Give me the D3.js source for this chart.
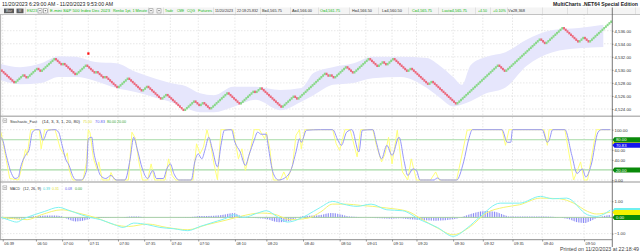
<!DOCTYPE html>
<html>
<head>
<meta charset="UTF-8" />
<title>ESZ23 Renko - MultiCharts</title>
<script src="https://cdn.jsdelivr.net/npm/d3@7"></script>
<style>
  body { margin: 0; background: #fff; }
  svg { display: block; font-family: 'Liberation Sans', Arial, sans-serif; }
</style>
</head>
<body>
<div id="chart"></div>
<script>
  // ---- data ----
  const brickSize = 0.25
  // renko turning points (price of the last brick of each run)
  const renkoPivots = [
    4530.00, 4528.00, 4529.25, 4528.75, 4530.25, 4529.75, 4531.75, 4530.75, 4531.00, 4529.25,
    4530.75, 4529.50, 4529.75, 4528.75, 4529.00, 4527.25, 4528.75, 4526.75, 4527.50, 4525.50,
    4526.25, 4523.75, 4525.25, 4524.50, 4525.00, 4524.00, 4526.50, 4524.75, 4526.75, 4526.50,
    4527.25, 4524.25, 4526.00, 4525.50, 4529.50, 4529.00, 4529.25, 4528.75, 4530.50, 4529.50,
    4531.75, 4530.50, 4531.25, 4530.75, 4531.75, 4529.75, 4530.25, 4527.75, 4528.25, 4524.75,
    4530.75, 4529.75, 4534.75, 4534.00, 4536.50, 4534.25, 4535.00, 4534.25, 4537.50
  ]
  const signalBar = 50
  const signalPrice = 4532.5

  // lavender band (bar index, upper, lower)
  const bandBars = [0, 11, 23, 33, 43, 54, 66, 77, 89, 97, 106, 114, 122, 133, 146, 160, 172, 179, 190, 202, 213, 229, 244, 251, 259, 264, 269, 278, 289, 301, 316, 331, 345]
  const bandUpper = [4530.9, 4530.4, 4531.0, 4532.1, 4532.0, 4531.2, 4531.0, 4529.7, 4528.6, 4528.0, 4527.5, 4526.4, 4526.1, 4527.4, 4527.4, 4526.9, 4527.2, 4529.5, 4530.4, 4531.0, 4532.0, 4532.0, 4531.8, 4530.7, 4528.9, 4527.7, 4530.7, 4532.0, 4532.7, 4534.6, 4536.1, 4536.4, 4536.9]
  const bandLower = [4528.4, 4527.8, 4528.0, 4528.9, 4528.9, 4528.3, 4527.2, 4526.6, 4525.7, 4525.1, 4524.1, 4523.5, 4523.5, 4524.3, 4525.4, 4523.8, 4525.1, 4526.1, 4527.7, 4528.0, 4528.7, 4528.9, 4527.2, 4525.8, 4524.4, 4524.7, 4525.2, 4526.4, 4527.3, 4530.6, 4532.7, 4533.3, 4533.5]

  const priceTicks = [4524, 4526, 4528, 4530, 4532, 4534, 4536]

  // Stochastic_Fast: slow line (blue) and fast line (yellow)
  const stochDBars = [0, 1, 3, 6, 8, 10, 11, 14, 16, 18, 20, 22, 24, 27, 31, 33, 35, 37, 39, 41, 43, 46, 49, 50, 52, 53, 55, 57, 60, 63, 66, 71, 74, 76, 78, 81, 84, 87, 89, 93, 95, 97, 99, 102, 109, 111, 113, 115, 117, 119, 121, 124, 126, 128, 132, 134, 137, 140, 142, 145, 147, 149, 152, 153, 156, 159, 162, 166, 169, 171, 172, 175, 183, 190, 193, 195, 198, 201, 205, 207, 213, 215, 218, 221, 224, 228, 231, 233, 236, 238, 240, 248, 250, 252, 261, 265, 268, 270, 287, 290, 292, 293, 310, 313, 314, 316, 323, 327, 330, 333, 335, 338, 342, 344, 349]
  const stochD = [85, 79, 49, 13, 3, 6, 22, 49, 59, 95, 100, 100, 79, 99, 100, 95, 69, 42, 29, 9, 0, 0, 19, 82, 85, 59, 29, 9, 3, 9, 0, 0, 42, 85, 62, 22, 3, 19, 3, 3, 22, 32, 13, 0, 0, 36, 52, 42, 62, 85, 62, 26, 69, 99, 100, 75, 56, 29, 49, 79, 95, 91, 91, 69, 13, 0, 3, 19, 56, 82, 75, 99, 100, 100, 79, 69, 95, 100, 56, 99, 100, 75, 42, 69, 49, 85, 36, 9, 22, 19, 0, 0, 4, 0, 0, 36, 82, 100, 100, 75, 75, 100, 100, 75, 79, 100, 100, 49, 13, 22, 6, 29, 95, 100, 100]
  const stochKBars = [0, 5, 10, 12, 14, 15, 17, 22, 23, 25, 31, 34, 37, 38, 39, 41, 47, 49, 50, 51, 53, 55, 56, 58, 62, 63, 65, 73, 75, 77, 79, 81, 84, 86, 88, 94, 96, 98, 100, 110, 112, 114, 116, 118, 120, 122, 124, 126, 133, 136, 138, 140, 143, 145, 148, 151, 152, 154, 156, 160, 162, 164, 167, 169, 171, 172, 174, 183, 190, 192, 194, 197, 200, 204, 206, 213, 215, 218, 220, 222, 224, 227, 230, 233, 235, 238, 246, 249, 251, 261, 267, 270, 287, 289, 291, 311, 313, 314, 323, 328, 332, 334, 336, 341, 349]
  const stochK = [95, 3, 0, 26, 61, 49, 100, 100, 62, 100, 100, 62, 46, 54, 21, 0, 0, 36, 100, 94, 42, 21, 36, 0, 0, 15, 0, 0, 95, 83, 36, 0, 0, 32, 0, 0, 42, 9, 0, 0, 72, 52, 66, 100, 72, 32, 0, 100, 100, 42, 62, 19, 62, 100, 100, 82, 95, 62, 0, 0, 16, 0, 29, 89, 100, 62, 100, 100, 100, 72, 59, 100, 100, 46, 100, 100, 69, 36, 52, 85, 32, 99, 16, 0, 42, 0, 0, 16, 0, 0, 99, 100, 100, 69, 100, 100, 69, 100, 100, 0, 36, 0, 0, 100, 100]
  const stochTicks = [0, 40, 60, 100]

  // MACD (12, 26, 9)
  const macdBars = [0, 4, 9, 13, 19, 25, 33, 38, 46, 51, 57, 65, 70, 76, 84, 91, 99, 107, 114, 122, 130, 133, 139, 147, 152, 158, 164, 172, 179, 183, 190, 196, 204, 212, 221, 230, 240, 250, 259, 267, 274, 286, 297, 309, 316, 324, 336, 341, 349]
  const macdLine = [0, -0.14, -0.29, -0.08, 0.16, 0.37, 0.62, 0.47, 0.16, 0, -0.14, -0.45, -0.62, -0.35, -0.45, -0.62, -0.7, -0.82, -0.56, -0.29, 0, 0.16, 0, 0.27, 0.41, 0.06, -0.29, -0.04, 0.37, 0.62, 0.99, 0.82, 0.68, 0.82, 0.47, 0.41, -0.14, -0.62, -1.17, -0.66, 0, 0.88, 0.88, 1.3, 1.15, 1.19, 0.16, 0.06, 0.45]
  const signalBars = [0, 7, 15, 23, 35, 44, 55, 65, 73, 84, 95, 107, 118, 130, 137, 149, 156, 166, 176, 183, 190, 198, 206, 213, 221, 233, 240, 250, 259, 269, 278, 288, 297, 309, 320, 328, 336, 341, 349]
  const signalLine = [0, -0.08, -0.14, 0.16, 0.47, 0.27, -0.04, -0.45, -0.56, -0.41, -0.62, -0.76, -0.45, -0.14, 0.06, 0.27, 0.21, -0.14, -0.04, 0.33, 0.82, 0.82, 0.74, 0.68, 0.58, 0.37, -0.04, -0.66, -1.07, -0.56, 0.27, 0.62, 0.78, 1.19, 1.15, 0.88, 0.37, 0.21, 0.33]
  const histBars = [0, 6, 11, 17, 23, 31, 35, 38, 43, 49, 53, 57, 69, 74, 79, 83, 97, 109, 114, 122, 129, 133, 137, 143, 152, 159, 166, 170, 174, 183, 189, 194, 200, 209, 217, 223, 229, 234, 243, 249, 260, 266, 272, 277, 283, 287, 292, 297, 312, 320, 325, 330, 334, 338, 342, 346, 349]
  const histValues = [-0.05, -0.1, -0.08, 0.05, 0.1, 0.12, 0.05, -0.1, -0.25, -0.15, 0, 0.03, 0, 0.05, 0.06, 0, 0, 0.03, 0.08, 0.1, 0.2, 0.27, 0.1, 0, -0.1, -0.3, -0.2, 0, 0.08, 0.15, 0.27, 0.2, 0.05, 0, -0.05, -0.08, -0.05, -0.12, -0.18, -0.2, -0.1, 0.1, 0.3, 0.4, 0.35, 0.2, 0.05, 0.05, 0.05, 0, -0.1, -0.3, -0.35, -0.2, 0, 0.1, 0.15]
  const macdTicks = [-1, 1]

  // time axis
  const timeBars = [1, 20, 35, 50, 67, 82, 97, 113, 134, 152, 173, 194, 209, 224, 238, 259, 276, 293, 310, 334]
  const timeLabels = ['06:39', '06:50', '07:00', '07:11', '07:30', '07:35', '07:40', '07:50', '08:10', '08:20', '08:40', '08:50', '09:01', '09:10', '09:20', '09:30', '09:32', '09:35', '09:40', '09:50']

  // ---- build renko bricks from the runs ----
  const bricks = []
  let level = renkoPivots[0]
  for (let k = 1; k < renkoPivots.length; k++) {
    const dir = Math.sign(renkoPivots[k] - level)
    while (Math.abs(renkoPivots[k] - level) > 1e-9) {
      bricks.push({ i: bricks.length, open: level, close: level + dir * brickSize, up: dir > 0 })
      level += dir * brickSize
    }
  }

  // ---- layout ----
  const W = 640, H = 252
  const plotL = 1, plotR = 612
  const panes = {
    price: { top: 14.5, bottom: 115.5 },
    stoch: { top: 117, bottom: 181.5 },
    macd: { top: 182.5, bottom: 239.5 },
  }

  const x = d3.scaleLinear().domain([0, bricks.length]).range([plotL, plotR])
  const yPrice = d3.scaleLinear().domain([4524, 4536]).range([109, 30.7])
  const yStoch = d3.scaleLinear().domain([0, 100]).range([180, 129.7])
  const yMacd = d3.scaleLinear().domain([-1, 1]).range([233.6, 201.2])
  const bw = x(1) - x(0)

  const svg = d3.select('#chart').append('svg').attr('width', W).attr('height', H)
  svg.append('rect').attr('width', W).attr('height', H).attr('fill', '#fff')

  const defs = svg.append('defs')
  Object.entries(panes).forEach(([id, p]) => {
    defs.append('clipPath').attr('id', 'clip-' + id)
      .append('rect').attr('x', plotL).attr('y', p.top).attr('width', plotR - plotL).attr('height', p.bottom - p.top)
  })
  const stripe = defs.append('pattern').attr('id', 'histStripe')
    .attr('patternUnits', 'userSpaceOnUse').attr('width', bw).attr('height', 4)
  stripe.append('rect').attr('width', 0.8).attr('height', 4).attr('fill', '#7f7ff5')

  function txt(sel, px, py, s, fill, len, size = 4.3, weight = 'normal', anchor = 'start') {
    const t = sel.append('text').attr('x', px).attr('y', py).attr('fill', fill)
      .attr('font-size', size).attr('font-weight', weight).attr('text-anchor', anchor).text(s)
    if (len) t.attr('textLength', len).attr('lengthAdjust', 'spacingAndGlyphs')
    return t
  }

  // ---- title row ----
  txt(svg, 2, 6, '11/20/2023 6:29:00 AM - 11/20/2023 9:53:00 AM', '#222', 111, 5.4)
  txt(svg, 638, 6, 'MultiCharts .NET64 Special Edition', '#222', 85, 5.2, 'bold', 'end')

  // ---- symbol toolbar ----
  const tb = svg.append('g')
  tb.append('rect').attr('x', 0).attr('y', 7.5).attr('width', W).attr('height', 7).attr('fill', '#f4f4f4')
  const cellLines = [25, 48, 148, 163, 213, 235, 260, 290, 318, 349, 378, 408, 438, 475, 490, 507, 542, 567, 587, 635]
  cellLines.forEach(cx => tb.append('line').attr('x1', cx + 0.5).attr('x2', cx + 0.5).attr('y1', 7.5).attr('y2', 14.5).attr('stroke', '#d4d4d4').attr('stroke-width', 0.6))
  tb.append('rect').attr('x', 4).attr('y', 8.6).attr('width', 10).attr('height', 4.6).attr('fill', '#5c5c5c')
  tb.append('rect').attr('x', 16.5).attr('y', 8.6).attr('width', 7).attr('height', 4.6).attr('fill', '#5c5c5c')
  txt(tb, 9, 12.2, 'Bar', '#ddd', 6, 3.4, 'normal', 'middle')
  txt(tb, 20, 12.2, 'M', '#ddd', null, 3.4, 'normal', 'middle')
  ;[38, 43.5, 149, 157].forEach(bx => {
    tb.append('rect').attr('x', bx).attr('y', 8.8).attr('width', 4).attr('height', 4.2).attr('fill', '#fff').attr('stroke', '#777').attr('stroke-width', 0.5)
    tb.append('path').attr('d', `M${bx + 1},${10.3} L${bx + 3},${10.3} L${bx + 2},${11.6} Z`).attr('fill', '#444')
  })
  const green = '#12b812', dark = '#333'
  const toolbarTexts = [
    [27, 'ESZ23', green, 10], [50, 'E-mini S&P 500 Index Dec 2023', green, 60], [113, 'Renko 1pt, 1 Minute', green, 34],
    [165, 'Trade', green, 8], [177, 'CME', green, 7], [187, 'CQG', green, 8], [198, 'Futures', green, 14],
    [215, '11/20/2023', dark, 18], [237, '22:18:25.832', dark, 21], [262, 'B=4,565.75', dark, 20], [292, 'A=4,566.00', dark, 20],
    [320, 'O=4,561.75', green, 20], [352, 'H=4,566.50', dark, 20], [382, 'L=4,560.50', dark, 20], [412, 'C=4,565.75', green, 20],
    [442, 'Last=4,565.75', green, 25], [478, '+4.50', green, 9], [493, '+0.10%', green, 13], [508, 'V=28,368', dark, 17],
  ]
  toolbarTexts.forEach(([tx, s, c, len]) => txt(tb, tx, 12.4, s, c, len, 4.3))

  // ---- grids ----
  const grid = svg.append('g').attr('stroke', '#d6d6d6').attr('stroke-width', 0.6).attr('stroke-dasharray', '1.5,1.5')
  Object.values(panes).forEach(p => {
    timeBars.forEach(b => grid.append('line').attr('x1', x(b)).attr('x2', x(b)).attr('y1', p.top).attr('y2', p.bottom))
  })
  priceTicks.forEach(v => grid.append('line').attr('x1', plotL).attr('x2', plotR).attr('y1', yPrice(v)).attr('y2', yPrice(v)))
  ;[0, 40, 60, 100].forEach(v => grid.append('line').attr('x1', plotL).attr('x2', plotR).attr('y1', yStoch(v)).attr('y2', yStoch(v)))
  ;[-1, 1].forEach(v => grid.append('line').attr('x1', plotL).attr('x2', plotR).attr('y1', yMacd(v)).attr('y2', yMacd(v)))

  // ---- price pane ----
  const gp = svg.append('g').attr('clip-path', 'url(#clip-price)')
  const band = bandBars.map((b, i) => ({ b, hi: bandUpper[i], lo: bandLower[i] }))
  gp.append('path').datum(band)
    .attr('fill', '#e6e6fc')
    .attr('d', d3.area().curve(d3.curveMonotoneX).x(d => x(d.b)).y0(d => yPrice(d.lo)).y1(d => yPrice(d.hi)))
  gp.selectAll('rect.brick').data(bricks).enter().append('rect')
    .attr('class', 'brick')
    .attr('x', d => x(d.i) - 0.1)
    .attr('width', bw + 0.2)
    .attr('y', d => yPrice(Math.max(d.open, d.close)) - 0.4)
    .attr('height', d => Math.abs(yPrice(d.open) - yPrice(d.close)) + 0.8)
    .attr('fill', d => d.up ? '#8ad88a' : '#ec687c')
  gp.append('rect').attr('x', x(signalBar) - 1).attr('y', yPrice(signalPrice) - 1.2).attr('width', 2.2).attr('height', 2.4).attr('fill', '#ff1010')

  // ---- stochastic pane ----
  const gs = svg.append('g').attr('clip-path', 'url(#clip-stoch)')
  ;[80, 20].forEach(v => gs.append('line').attr('x1', plotL).attr('x2', plotR).attr('y1', yStoch(v)).attr('y2', yStoch(v)).attr('stroke', '#a6daa6').attr('stroke-width', 1.2))
  gs.append('path').datum(stochKBars.map((b, i) => [b, stochK[i]]))
    .attr('fill', 'none').attr('stroke', '#ffff7a').attr('stroke-width', 1)
    .attr('d', d3.line().x(d => x(d[0])).y(d => yStoch(d[1])))
  gs.append('path').datum(stochDBars.map((b, i) => [b, stochD[i]]))
    .attr('fill', 'none').attr('stroke', '#9696f8').attr('stroke-width', 1)
    .attr('d', d3.line().curve(d3.curveMonotoneX).x(d => x(d[0])).y(d => yStoch(d[1])))

  // ---- MACD pane ----
  const gm = svg.append('g').attr('clip-path', 'url(#clip-macd)')
  gm.append('path').datum(histBars.map((b, i) => [b, histValues[i]]))
    .attr('fill', 'url(#histStripe)')
    .attr('d', d3.area().curve(d3.curveMonotoneX).x(d => x(d[0])).y0(yMacd(0)).y1(d => yMacd(d[1])))
  gm.append('line').attr('x1', plotL).attr('x2', plotR).attr('y1', yMacd(0)).attr('y2', yMacd(0)).attr('stroke', '#9cc89c').attr('stroke-width', 0.9)
  gm.append('path').datum(signalBars.map((b, i) => [b, signalLine[i]]))
    .attr('fill', 'none').attr('stroke', '#f4f470').attr('stroke-width', 1)
    .attr('d', d3.line().curve(d3.curveMonotoneX).x(d => x(d[0])).y(d => yMacd(d[1])))
  gm.append('path').datum(macdBars.map((b, i) => [b, macdLine[i]]))
    .attr('fill', 'none').attr('stroke', '#7ef2f2').attr('stroke-width', 1)
    .attr('d', d3.line().curve(d3.curveMonotoneX).x(d => x(d[0])).y(d => yMacd(d[1])))

  // ---- pane headers ----
  function headerIcon(py) {
    svg.append('rect').attr('x', 3).attr('y', py - 3.6).attr('width', 3.8).attr('height', 3.8).attr('fill', '#fff').attr('stroke', '#888').attr('stroke-width', 0.5)
    svg.append('line').attr('x1', 3.8).attr('x2', 6).attr('y1', py - 1.7).attr('y2', py - 1.7).attr('stroke', '#555').attr('stroke-width', 0.5)
  }
  headerIcon(122.5)
  txt(svg, 10, 122.5, 'Stochastic_Fast', dark, 27)
  txt(svg, 42, 122.5, '(14, 3, 3, 1, 20, 80)', dark, 38)
  txt(svg, 83, 122.5, '75.00', '#dede2a', 9)
  txt(svg, 95, 122.5, '70.83', '#5c5cf0', 10)
  txt(svg, 107, 122.5, '80.00', '#2ea62e', 9)
  txt(svg, 117, 122.5, '20.00', '#2ea62e', 9)
  headerIcon(189.5)
  txt(svg, 10, 189.5, 'MACD', dark, 10)
  txt(svg, 23, 189.5, '(12, 26, 9)', dark, 18)
  txt(svg, 43, 189.5, '0.39', '#3ad6d6', 7)
  txt(svg, 52, 189.5, '0.31', '#dede2a', 7)
  txt(svg, 65, 189.5, '0.08', '#5c5cf0', 7)
  txt(svg, 75, 189.5, '0.00', '#2ea62e', 7)

  // ---- frame lines ----
  const frame = svg.append('g')
  frame.append('line').attr('x1', 0).attr('x2', W).attr('y1', 14.5).attr('y2', 14.5).attr('stroke', '#b4b4b4').attr('stroke-width', 0.8)
  frame.append('line').attr('x1', 0).attr('x2', W).attr('y1', 116.2).attr('y2', 116.2).attr('stroke', '#b8b8b8').attr('stroke-width', 1.5)
  frame.append('line').attr('x1', 0).attr('x2', W).attr('y1', 182).attr('y2', 182).attr('stroke', '#b8b8b8').attr('stroke-width', 1.5)
  frame.append('line').attr('x1', 0).attr('x2', plotR).attr('y1', 239.7).attr('y2', 239.7).attr('stroke', '#6e6e6e').attr('stroke-width', 0.8)
  frame.append('line').attr('x1', 0.6).attr('x2', 0.6).attr('y1', 14.5).attr('y2', 239.7).attr('stroke', '#9a9a9a').attr('stroke-width', 0.8)
  frame.append('line').attr('x1', plotR + 0.3).attr('x2', plotR + 0.3).attr('y1', 7.5).attr('y2', 247).attr('stroke', '#555').attr('stroke-width', 0.8)

  // ---- right axes ----
  const axisText = sel => sel.call(g => g.select('.domain').remove())
    .call(g => g.selectAll('.tick line').attr('stroke', '#555').attr('stroke-width', 0.6))
    .call(g => g.selectAll('.tick text').attr('font-size', 4.3).attr('fill', '#333').attr('font-family', "'Liberation Sans', Arial, sans-serif"))
  svg.append('g').attr('transform', `translate(${plotR},0)`)
    .call(d3.axisRight(yPrice).tickValues(priceTicks).tickFormat(d3.format(',.2f')).tickSize(1.5).tickPadding(1))
    .call(axisText)
  svg.append('g').attr('transform', `translate(${plotR},0)`)
    .call(d3.axisRight(yStoch).tickValues(stochTicks).tickFormat(d3.format('.2f')).tickSize(1.5).tickPadding(1))
    .call(axisText)
  svg.append('g').attr('transform', `translate(${plotR},0)`)
    .call(d3.axisRight(yMacd).tickValues(macdTicks).tickFormat(d3.format('.2f')).tickSize(1.5).tickPadding(1))
    .call(axisText)

  // value tags on the right axis (label only where the reference shows one)
  function tag(cy, fill, label, textFill) {
    const h = 5, y0 = cy - h / 2
    svg.append('path').attr('d', `M${plotR + 0.5},${cy} L${plotR + 2.5},${y0} L${W},${y0} L${W},${y0 + h} L${plotR + 2.5},${y0 + h} Z`).attr('fill', fill)
    if (label) txt(svg, plotR + 4, cy + 1.6, label, textFill, null, 4.2)
  }
  tag(yStoch(75) + 0.4, '#f2f200', null)
  tag(yStoch(80), '#0a8a0a', '80.00', '#fff')
  tag(yStoch(70.83) + 1, '#1414ee', '70.83', '#fff')
  tag(yStoch(20), '#0a8a0a', '20.00', '#fff')
  tag(yMacd(0.39) - 0.6, '#6ff0f0', null)
  tag(yMacd(0.31), '#f2f200', null)
  tag(yMacd(0), '#0a8a0a', '0.00', '#fff')

  // ---- time axis ----
  const gx = svg.append('g').attr('transform', 'translate(0,239.7)')
    .call(d3.axisBottom(x).tickValues(timeBars).tickFormat((d, i) => timeLabels[i]).tickSize(1.8).tickPadding(1))
  gx.select('.domain').remove()
  gx.selectAll('.tick line').attr('stroke', '#555').attr('stroke-width', 0.6)
  gx.selectAll('.tick text').attr('font-size', 3.9).attr('fill', '#333').attr('text-anchor', 'start').attr('dx', 1)
    .attr('font-family', "'Liberation Sans', Arial, sans-serif")

  txt(svg, 639, 251, 'Printed on 11/20/2023 at 22:18:49', '#444', 79, 5, 'normal', 'end')
</script>
</body>
</html>
